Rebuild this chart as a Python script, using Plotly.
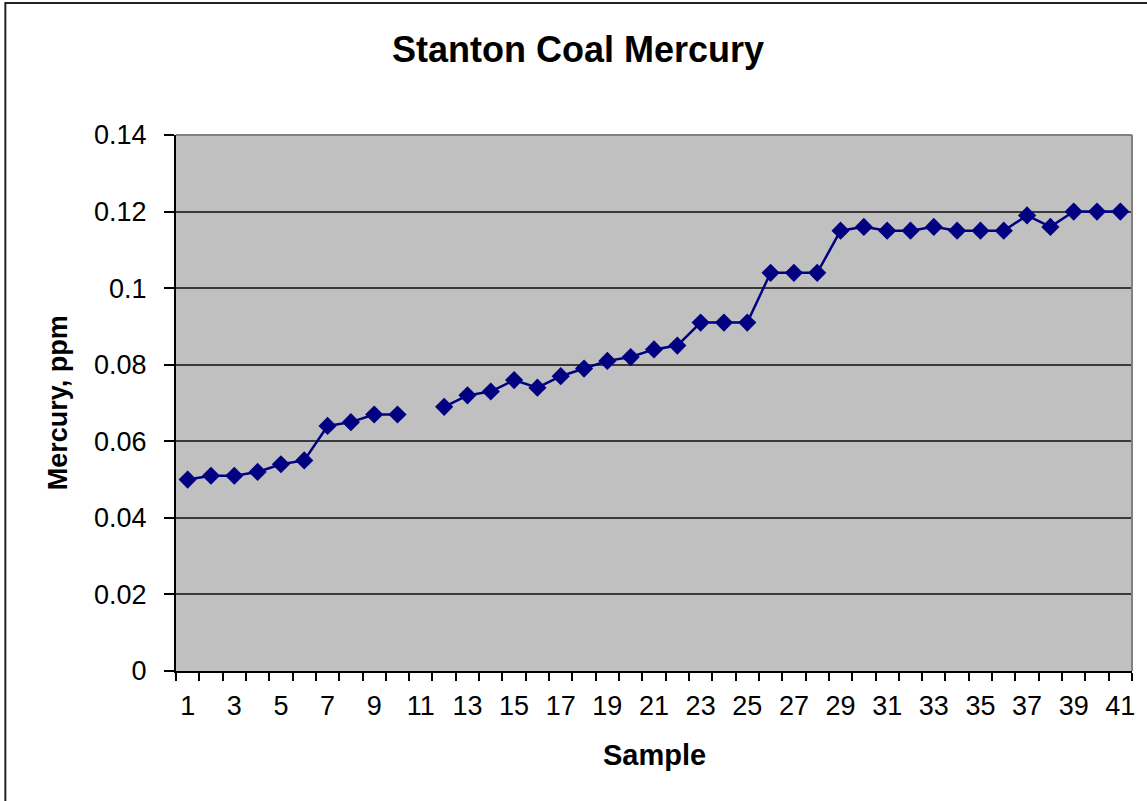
import plotly.graph_objects as go

# Sample numbers and mercury content (ppm); sample 11 has no reading
samples = list(range(1, 42))
mercury_ppm = [
    0.050, 0.051, 0.051, 0.052, 0.054, 0.055, 0.064, 0.065, 0.067, 0.067,
    None, 0.069, 0.072, 0.073, 0.076, 0.074, 0.077, 0.079, 0.081, 0.082,
    0.084, 0.085, 0.091, 0.091, 0.091, 0.104, 0.104, 0.104, 0.115, 0.116,
    0.115, 0.115, 0.116, 0.115, 0.115, 0.115, 0.119, 0.116, 0.120, 0.120,
    0.120,
]
x_tick_vals = list(range(1, 42, 2))
x_tick_text = [str(v) for v in x_tick_vals]
y_tick_vals = [0, 0.02, 0.04, 0.06, 0.08, 0.10, 0.12, 0.14]
y_tick_text = ["0", "0.02", "0.04", "0.06", "0.08", "0.1", "0.12", "0.14"]

W, H = 1147, 801
L, R, T, B = 176, 13, 135, 130
pw, ph = W - L - R, H - T - B

FONT = "Liberation Sans, Arial, sans-serif"

fig = go.Figure()
fig.add_trace(go.Scatter(
    x=samples, y=mercury_ppm, mode="lines+markers",
    connectgaps=False,
    line=dict(color="#000080", width=2.5),
    marker=dict(symbol="diamond", size=14, color="#000080"),
    showlegend=False,
))

def px_x(p):
    return (p - L) / pw

def px_y(p):
    return (H - B - p) / ph

fig.update_layout(
    width=W, height=H,
    margin=dict(l=L, r=R, t=T, b=B, pad=0),
    paper_bgcolor="white",
    plot_bgcolor="#C0C0C0",
    font=dict(family=FONT, color="black"),
    xaxis=dict(
        range=[0.5, 41.5],
        tickmode="array", tickvals=x_tick_vals, ticktext=x_tick_text,
        ticks="", showgrid=False, zeroline=False,
        showline=True, linecolor="black", linewidth=2,
        tickfont=dict(size=27, family=FONT, color="black"),
        ticklabelstandoff=10,
        minor=dict(
            tickmode="array",
            tickvals=[i + 0.5 for i in range(0, 42)],
            ticks="outside", ticklen=8, tickwidth=1.5, tickcolor="black",
            showgrid=False,
        ),
    ),
    yaxis=dict(
        range=[0, 0.14],
        tickmode="array", tickvals=y_tick_vals, ticktext=y_tick_text,
        ticks="outside", ticklen=10, tickwidth=1.5, tickcolor="black",
        showgrid=True, gridcolor="#3a3a3a", gridwidth=1.5,
        zeroline=False,
        showline=True, linecolor="black", linewidth=2,
        tickfont=dict(size=27, family=FONT, color="black"),
        ticklabelstandoff=12,
    ),
    shapes=[
        # top and right edges of the plotting area
        dict(type="line", xref="paper", yref="paper", x0=0, x1=1, y0=1, y1=1,
             line=dict(color="#808080", width=2)),
        dict(type="line", xref="paper", yref="paper", x0=1, x1=1, y0=0, y1=1,
             line=dict(color="#808080", width=2)),
        # outer chart frame
        dict(type="rect", xref="paper", yref="paper",
             x0=px_x(5), x1=px_x(1160), y0=px_y(812), y1=px_y(3),
             line=dict(color="#222222", width=2), layer="below"),
    ],
    annotations=[
        dict(text="<b>Stanton Coal Mercury</b>", xref="paper", yref="paper",
             x=px_x(579), y=px_y(49), xanchor="center", yanchor="middle",
             showarrow=False, font=dict(size=36, family=FONT, color="black")),
        dict(text="<b>Sample</b>", xref="paper", yref="paper",
             x=px_x(655), y=px_y(755), xanchor="center", yanchor="middle",
             showarrow=False, font=dict(size=29, family=FONT, color="black")),
        dict(text="<b>Mercury, ppm</b>", xref="paper", yref="paper",
             x=px_x(58), y=px_y(403), xanchor="center", yanchor="middle",
             textangle=-90,
             showarrow=False, font=dict(size=27, family=FONT, color="black")),
    ],
)

fig.write_html("out.html")
